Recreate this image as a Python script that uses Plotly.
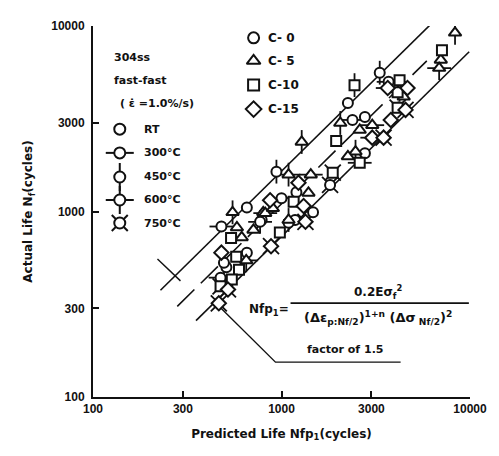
import plotly.graph_objects as go

# ---- test data: predicted vs actual fatigue life (cycles) ----
c0_pred = [2250, 3320, 3700, 2770, 2380, 2770, 940, 1810, 1000, 1200, 1470, 1180, 785, 655, 480, 770, 655, 510, 475, 495, 1090]
c0_act = [3850, 5600, 5000, 3230, 3115, 2060, 1640, 1390, 1180, 1270, 990, 900, 900, 1050, 830, 880, 600, 500, 440, 530, 870]
c0_temp = ["RT", "450", "300", "RT", "300", "RT", "450", "750", "RT", "RT", "RT", "300", "RT", "RT", "300", "600", "RT", "RT", "300", "450", "RT"]

c5_pred = [8330, 7000, 6860, 1280, 2050, 3030, 2600, 2470, 2250, 4230, 4450, 1090, 1430, 1390, 1090, 800, 710, 550, 580, 615, 820, 900, 650]
c5_act = [9190, 6560, 5930, 2370, 3000, 2920, 2750, 2100, 1980, 4520, 4150, 1580, 1580, 1260, 900, 990, 795, 990, 820, 725, 980, 1040, 545]
c5_temp = ["450", "RT", "600", "450", "450", "300", "RT", "450", "RT", "600", "RT", "600", "300", "RT", "450", "RT", "RT", "450", "RT", "RT", "300", "RT", "600"]

c10_pred = [7100, 2440, 4230, 4130, 1950, 2600, 1870, 1160, 980, 575, 540, 595, 545, 475, 4130]
c10_act = [7400, 4800, 5100, 3630, 2400, 1830, 1620, 1130, 770, 570, 720, 485, 430, 395, 4400]
c10_temp = ["RT", "450", "RT", "750", "RT", "300", "750", "RT", "RT", "RT", "RT", "RT", "RT", "750", "300"]

c15_pred = [4660, 3660, 3800, 3030, 3480, 1230, 870, 1310, 1340, 880, 480, 520, 465, 4550]
c15_act = [4630, 4630, 3115, 2500, 2500, 1430, 1150, 1070, 880, 650, 600, 380, 320, 3530]
c15_temp = ["RT", "300", "RT", "300", "750", "RT", "RT", "RT", "750", "750", "RT", "750", "750", "750"]

# scatter band: centre line and factor-of-1.5 bounds
band_centre = 1.1
band_factor = 1.5
upper_span = [228, 6700]
centre_span = [280, 5900]
lower_span = [352, 9900]

tick_vals = [100, 300, 1000, 3000, 10000]
tick_text = ["100", "300", "1000", "3000", "10000"]

temp_labels = ["RT", "300°C", "450°C", "600°C", "750°C"]
temp_keys = ["RT", "300", "450", "600", "750"]
group_labels = ["C- 0", "C- 5", "C-10", "C-15"]

FONT = "Liberation Sans"
WIDE = "DejaVu Sans"
BLACK = "#111111"

shape_of = {"C- 0": "circle", "C- 5": "triangle-up", "C-10": "square", "C-15": "diamond"}
size_of = {"circle": 10, "triangle-up": 11, "square": 10, "diamond": 11}
whisker_of = {"RT": None, "300": "line-ew", "450": "line-ns", "600": "cross-thin", "750": "x-thin"}

groups = [
    ("C- 0", c0_pred, c0_act, c0_temp),
    ("C- 5", c5_pred, c5_act, c5_temp),
    ("C-10", c10_pred, c10_act, c10_temp),
    ("C-15", c15_pred, c15_act, c15_temp),
]

fig = go.Figure()

# factor lines
for span, k, dash in [(upper_span, band_centre * band_factor, "solid"),
                      (centre_span, band_centre, "24px,9px"),
                      (lower_span, band_centre / band_factor, "solid")]:
    fig.add_trace(go.Scatter(
        x=span, y=[v * k for v in span], mode="lines",
        line=dict(color=BLACK, width=1.6, dash=dash),
        cliponaxis=False, showlegend=False, hoverinfo="skip"))

# whiskers first, then white-filled symbols on top
for name, px, py, tt in groups:
    for key in temp_keys:
        w = whisker_of[key]
        if w is None:
            continue
        xs = [a for a, t in zip(px, tt) if t == key]
        ys = [b for b, t in zip(py, tt) if t == key]
        if xs:
            fig.add_trace(go.Scatter(
                x=xs, y=ys, mode="markers", showlegend=False, hoverinfo="skip",
                marker=dict(symbol=w, size=17 if key != "750" else 16,
                            line=dict(color=BLACK, width=1.8))))

for name, px, py, tt in groups:
    sym = shape_of[name]
    fig.add_trace(go.Scatter(
        x=px, y=py, mode="markers", name=name, showlegend=False,
        marker=dict(symbol=sym, size=size_of[sym], color="white",
                    line=dict(color=BLACK, width=2))))

# ---- in-plot keys drawn on an overlay [0,1] axis pair ----
temp_key_x = 0.071
temp_key_y = [0.722, 0.658, 0.593, 0.531, 0.469]
for key, yy in zip(temp_keys, temp_key_y):
    w = whisker_of[key]
    if w is not None:
        fig.add_trace(go.Scatter(
            x=[temp_key_x], y=[yy], xaxis="x2", yaxis="y2", mode="markers",
            showlegend=False, hoverinfo="skip",
            marker=dict(symbol=w, size=20 if key != "750" else 16,
                        line=dict(color=BLACK, width=2))))
    fig.add_trace(go.Scatter(
        x=[temp_key_x], y=[yy], xaxis="x2", yaxis="y2", mode="markers",
        showlegend=False, hoverinfo="skip",
        marker=dict(symbol="circle", size=11, color="white",
                    line=dict(color=BLACK, width=2))))

grp_key_x = 0.426
grp_key_y = [0.968, 0.906, 0.841, 0.776]
for name, yy in zip(group_labels, grp_key_y):
    sym = shape_of[name]
    fig.add_trace(go.Scatter(
        x=[grp_key_x], y=[yy], xaxis="x2", yaxis="y2", mode="markers",
        showlegend=False, hoverinfo="skip",
        marker=dict(symbol=sym, size=size_of[sym] + 1, color="white",
                    line=dict(color=BLACK, width=2))))

ann = []


def txt(x, y, s, size=11, xanchor="left", family=WIDE):
    ann.append(dict(x=x, y=y, xref="paper", yref="paper", text=s, showarrow=False,
                    xanchor=xanchor, yanchor="middle",
                    font=dict(family=family, size=size, color=BLACK, weight="bold")))


txt(0.05, 0.914, "304ss", size=11)
txt(0.05, 0.852, "fast-fast", size=11)
txt(0.066, 0.790, "( ε̇ =1.0%/s)", size=11)
for lab, yy in zip(temp_labels, temp_key_y):
    txt(0.13, yy, lab, size=11)
for lab, yy in zip(group_labels, grp_key_y):
    txt(0.458, yy, lab, size=12)

# life-prediction formula
txt(0.525, 0.234, "Nfp<sub>1</sub>=", size=12, xanchor="right")
txt(0.755, 0.282, "0.2Eσ<sub>f</sub><sup>2</sup>", size=12, xanchor="center")
txt(0.755, 0.212, "(Δε<sub>p:Nf/2</sub>)<sup>1+n</sup> (Δσ<sub> Nf/2</sub>)<sup>2</sup>", size=13,
    xanchor="center")
txt(0.668, 0.127, "factor of 1.5", size=11, xanchor="center")

shapes = [
    # fraction bar
    dict(type="line", xref="paper", yref="paper", x0=0.524, x1=0.997, y0=0.253, y1=0.253,
         line=dict(color=BLACK, width=1.8)),
    # leader to the upper bound
    dict(type="line", xref="paper", yref="paper", x0=0.171, y0=0.372, x1=0.232, y1=0.313,
         line=dict(color=BLACK, width=1.4)),
    # leader to the lower bound
    dict(type="path", xref="paper", yref="paper",
         path="M 0.339 0.240 L 0.484 0.094 L 0.816 0.094",
         line=dict(color=BLACK, width=1.4)),
]

axis_common = dict(
    type="log", tickmode="array", tickvals=tick_vals, ticktext=tick_text,
    showgrid=False, zeroline=False, showline=True, linecolor=BLACK, linewidth=2,
    ticks="inside", ticklen=6, tickwidth=2, tickcolor=BLACK,
    tickfont=dict(family=FONT, size=12, color=BLACK, weight="bold"),
    mirror=False,
)

fig.update_layout(
    width=499, height=456,
    margin=dict(l=93, r=26, t=26, b=59),
    paper_bgcolor="white", plot_bgcolor="white",
    showlegend=False,
    xaxis=dict(axis_common, range=[2, 4],
               title=dict(text="Predicted Life Nfp<sub>1</sub>(cycles)", standoff=14,
                          font=dict(family=WIDE, size=12, color=BLACK, weight="bold"))),
    yaxis=dict(axis_common, range=[2, 4], ticklabelstandoff=4,
               title=dict(text="Actual Life N<sub>f</sub>(cycles)", standoff=16,
                          font=dict(family=WIDE, size=12, color=BLACK, weight="bold"))),
    xaxis2=dict(overlaying="x", anchor="y2", range=[0, 1], visible=False),
    yaxis2=dict(overlaying="y", anchor="x2", range=[0, 1], visible=False),
    annotations=ann,
    shapes=shapes,
)

fig.write_html("out.html")
